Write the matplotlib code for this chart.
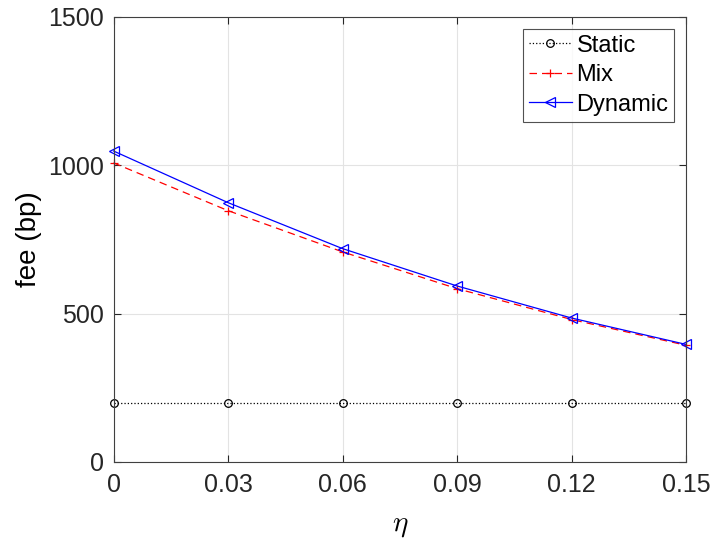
import matplotlib
matplotlib.use('Agg')
import matplotlib.pyplot as plt

plt.rcParams['font.family'] = ['Liberation Sans', 'DejaVu Sans']
plt.rcParams['mathtext.fontset'] = 'cm'

# data
eta = [0, 0.03, 0.06, 0.09, 0.12, 0.15]
static_fee = [200, 200, 200, 200, 200, 200]
mix_fee = [1008, 847, 708, 584, 480, 393]
dynamic_fee = [1048, 874, 719, 593, 485, 396]

fig = plt.figure(figsize=(7.14, 5.46), dpi=100)
ax = fig.add_axes([0.159, 0.154, 0.802, 0.815])

ax.plot(eta, static_fee, ':', color='black', lw=0.9, marker='o', ms=5.5,
        mfc='none', mew=0.9, label='Static', clip_on=False)
ax.plot(eta, mix_fee, '--', color='red', lw=0.9, marker='+', ms=6,
        mew=0.9, dashes=(6, 4), label='Mix', clip_on=False)
ax.plot(eta, dynamic_fee, '-', color='blue', lw=0.9, marker='<', ms=7,
        mfc='none', mew=0.9, label='Dynamic', clip_on=False)

ax.set_xlim(0, 0.15)
ax.set_ylim(0, 1500)
ax.set_xticks(eta)
ax.set_xticklabels(['0', '0.03', '0.06', '0.09', '0.12', '0.15'])
ax.set_yticks([0, 500, 1000, 1500])

ax.grid(True, color='#e3e3e3', lw=0.8)
ax.set_axisbelow(True)
ax.tick_params(axis='both', direction='in', labelsize=18, length=5, width=0.8,
               colors='#262626', top=True, right=True)
ax.tick_params(axis='x', pad=8)
ax.tick_params(axis='y', pad=7)
for sp in ax.spines.values():
    sp.set_color('#404040')
    sp.set_linewidth(0.8)

ax.set_xlabel(r'$\eta$', fontsize=21, labelpad=10)
ax.set_ylabel('fee (bp)', fontsize=20, labelpad=4)

leg = ax.legend(loc='upper right', fontsize=17, frameon=True, fancybox=False,
                edgecolor='#262626', handlelength=1.8, handletextpad=0.2,
                borderpad=0.25, labelspacing=0.32, borderaxespad=0.5)
leg.get_frame().set_linewidth(0.8)

fig.savefig('out.png', dpi=100)
